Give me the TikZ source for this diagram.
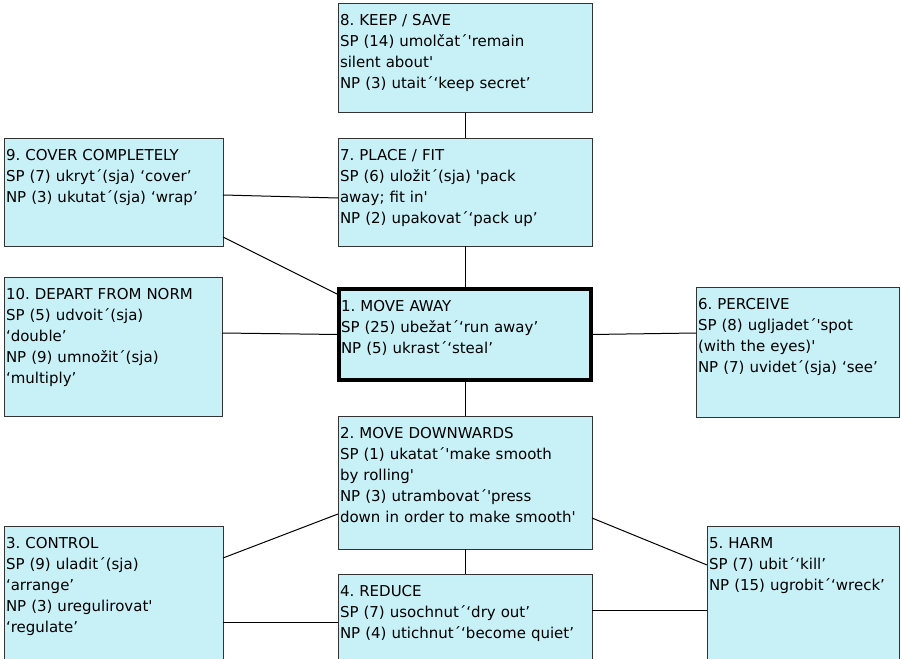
\documentclass[tikz,border=0pt]{standalone}
\usepackage{fontspec}
\setmainfont{DejaVu Sans}[Ligatures=TeXOff]
\frenchspacing
\definecolor{boxcyan}{HTML}{C8F0F7}
\definecolor{boxline}{HTML}{333333}
\tikzset{
  sensebox/.style 2 args={draw=boxline, line width=1pt, fill=boxcyan,
    anchor=north west, align=left, inner xsep=2pt, inner ysep=3pt, outer sep=0pt,
    text width=#1, text height=19pt, text depth=#2},
  centrebox/.style={draw=black, line width=4pt}
}

\begin{document}
\begin{tikzpicture}[x=1pt, y=-1pt, font=\fontsize{15}{21}\selectfont]
\useasboundingbox (0,0) rectangle (901,658);
\clip (0,0) rectangle (901,658);

\node[sensebox={250pt}{84pt}] (b8) at (338,4)
  {8. KEEP / SAVE\\SP (14) umolčat´'remain\\silent about'\\NP (3) utait´‘keep secret’};
\node[sensebox={250pt}{83pt}] (b7) at (338,138)
  {7. PLACE / FIT\\SP (6) uložit´(sja) 'pack\\away; fit in'\\NP (2) upakovat´‘pack up’};
\node[sensebox={215pt}{83pt}] (b9) at (4,138)
  {9. COVER COMPLETELY\\SP (7) ukryt´(sja) ‘cover’\\NP (3) ukutat´(sja) ‘wrap’};
\node[sensebox={214pt}{114pt}] (b10) at (4,277)
  {10. DEPART FROM NORM\\SP (5) udvoit´(sja)\\‘double’\\NP (9) umnožit´(sja)\\‘multiply’};
\node[sensebox={248pt}{66pt}, centrebox] (b1) at (339,289)
  {1. MOVE AWAY\\SP (25) ubežat´‘run away’\\NP (5) ukrast´‘steal’};
\node[sensebox={199pt}{105pt}] (b6) at (696,287)
  {6. PERCEIVE\\SP (8) ugljadet´'spot\\(with the eyes)'\\NP (7) uvidet´(sja) ‘see’};
\node[sensebox={250pt}{108pt}] (b2) at (338,416)
  {2. MOVE DOWNWARDS\\SP (1) ukatat´'make smooth\\by rolling'\\NP (3) utrambovat´'press\\down in order to make smooth'};
\node[sensebox={215pt}{175pt}] (b3) at (4,526)
  {3. CONTROL\\SP (9) uladit´(sja)\\‘arrange’\\NP (3) uregulirovat'\\‘regulate’};
\node[sensebox={250pt}{125pt}] (b4) at (338,574)
  {4. REDUCE\\SP (7) usochnut´‘dry out’\\NP (4) utichnut´‘become quiet’};
\node[sensebox={188pt}{175pt}] (b5) at (707,526)
  {5. HARM\\SP (7) ubit´‘kill’\\NP (15) ugrobit´‘wreck’};

% links
\foreach \a/\b in {b8/b7, b7/b1, b1/b2, b2/b4}
  \draw[line width=1pt] (\a.south) -- (\b.north);
\draw[line width=1pt] ([yshift=-57pt]b9.north east) -- ([yshift=-60pt]b7.north west);
\draw[line width=1pt] ([yshift=9pt]b9.south east) -- ([yshift=-6pt]b1.north west);
\draw[line width=1pt] ([yshift=-56pt]b10.north east) -- (b1.west);
\draw[line width=1pt] (b1.east) -- ([yshift=-46pt]b6.north west);
\draw[line width=1pt] ([yshift=-32pt]b3.north east) -- ([yshift=35pt]b2.south west);
\draw[line width=1pt] ([yshift=-96pt]b3.north east) -- ([yshift=-48pt]b4.north west);
\draw[line width=1pt] ([yshift=31pt]b2.south east) -- ([yshift=-39pt]b5.north west);
\draw[line width=1pt] ([yshift=-36pt]b4.north east) -- ([yshift=-84pt]b5.north west);
\end{tikzpicture}
\end{document}
